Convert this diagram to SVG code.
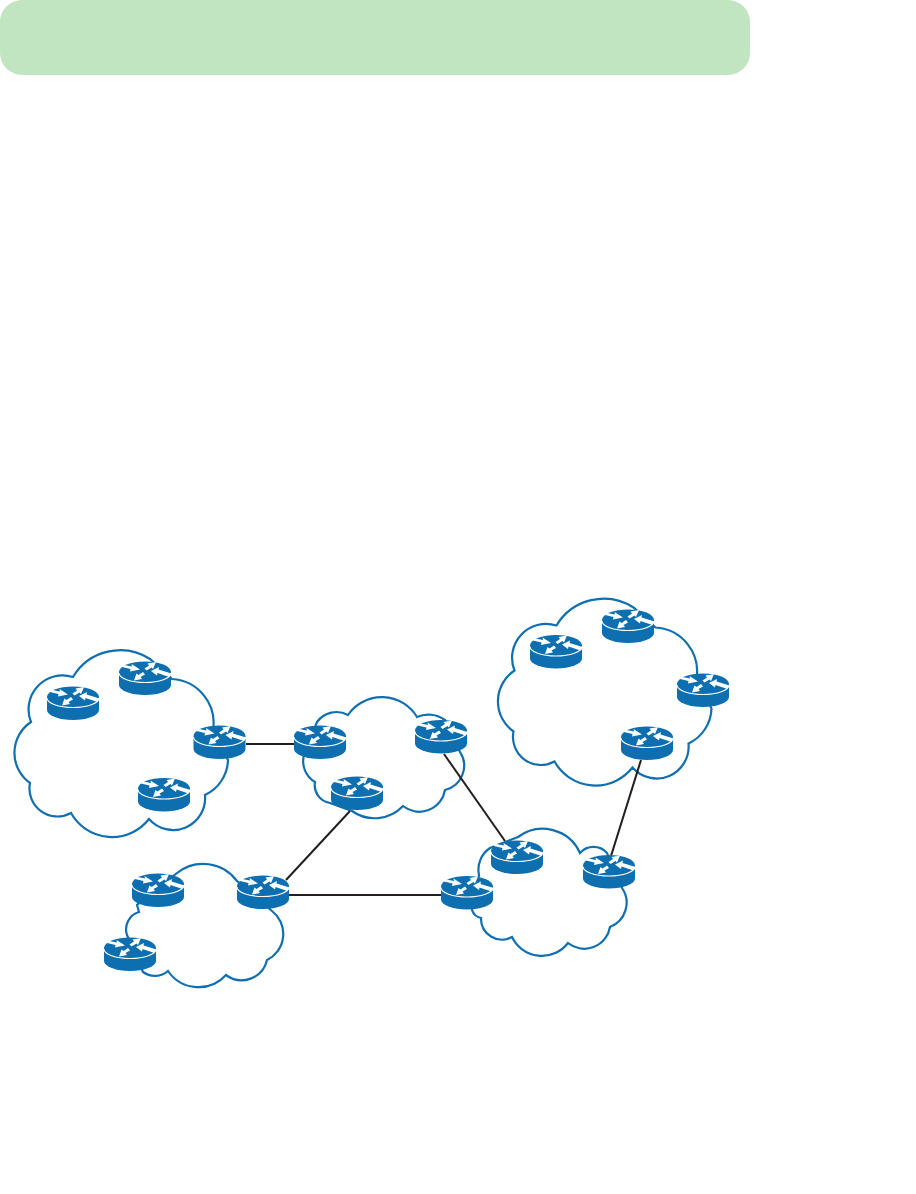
<svg xmlns="http://www.w3.org/2000/svg" xmlns:xlink="http://www.w3.org/1999/xlink" width="916" height="1194" viewBox="0 0 916 1194">
<style>
.cloud{fill:#fff;stroke:#0f6fb0;stroke-width:2.2;stroke-linejoin:miter}
.link{stroke:#231f20;stroke-width:2;fill:none}
.body{fill:#0d6fb0}
.rim{fill:none;stroke:#fff;stroke-width:1.1}
.arr{fill:#fff}
</style>
<defs>
<path id="bigcloud" class="cloud" d="M73,677 A55,55 0 0 1 150,659 L172,679 A44,44 0 0 1 213,730 L228,760 A40,40 0 0 1 205,795 A32,32 0 0 1 149,819 A47,47 0 0 1 71,813 A28,28 0 0 1 30,783 A37,37 0 0 1 31,722 A34,34 0 0 1 73,677 Z"/>
<g id="router">
<path class="body" d="M-26,-6 A26,10.500 0 0 1 26,-6 V7 A26,10 0 0 1 -26,7 Z"/>
<path class="rim" d="M-26,-5 A26,9.500 0 0 0 26,-5"/>
<polygon class="arr" points="-23,-13.500 -13,-11.500 -13.500,-14 -5,-8.500 -15,-6.500 -14.500,-9 -23,-11"/>
<polygon class="arr" points="-0.500,-9.500 4,-12.500 2.500,-14.500 11,-16 8,-9 6.500,-10.500 1.500,-7.500"/>
<polygon class="arr" points="6,-7 14,-11 13.500,-8.500 26.500,-4.500 24.500,-1 12.500,-5 12,-2.500"/>
<polygon class="arr" points="-11,2.500 -8.500,-4.500 -6.500,-3 -2,-6 0,-3.500 -4.500,-1 -3,1"/>
</g>
</defs>
<rect id="banner" x="0" y="0" width="750" height="75" rx="22" ry="22" fill="#c1e4c1"/>
<g id="clouds">
<use id="cloud-a" xlink:href="#bigcloud" href="#bigcloud"/>
<use id="cloud-b" xlink:href="#bigcloud" href="#bigcloud" x="483.500" y="-51.500"/>
<path id="cloud-c" class="cloud" d="M348,715 A41,41 0 0 1 417,717 A28,28 0 0 1 445,720 L460,752 A25,25 0 0 1 445,790 A26,26 0 0 1 403,806 A39,39 0 0 1 352,811 L330,803 A18,18 0 0 1 315,782 A24,24 0 0 1 304,755 L317,722 A24,24 0 0 1 348,715 Z"/>
<path id="cloud-d" class="cloud" d="M177,873 A42,42 0 0 1 237,881 L272,911 A29,29 0 0 1 267,960 A26,26 0 0 1 226,975 A37,37 0 0 1 168,971 A20,20 0 0 1 143,972 L127,935 A18,18 0 0 1 139,912 L137,905 Z"/>
<path id="cloud-e" class="cloud" d="M518,837 A41,41 0 0 1 580,853 A18,18 0 0 1 607,853 L622,888 A26,26 0 0 1 610,927 A26,26 0 0 1 568,943 A33,33 0 0 1 512,937 A21,21 0 0 1 481,918 A12,12 0 0 1 472,910 L479,875 A26,26 0 0 1 490,848 Z"/>
</g>
<g id="connectors">
<path class="link" d="M246,744 H294"/>
<path class="link" d="M444,754 L505,841"/>
<path class="link" d="M350,811 L286,880"/>
<path class="link" d="M289,895 H441"/>
<path class="link" d="M641,760 L611,856"/>
</g>
<g id="r1"><use xlink:href="#router" href="#router" x="145" y="678"/></g>
<g id="r2"><use xlink:href="#router" href="#router" x="73" y="703"/></g>
<g id="r3"><use xlink:href="#router" href="#router" x="219.500" y="742"/></g>
<g id="r4"><use xlink:href="#router" href="#router" x="164" y="794.500"/></g>
<g id="r5"><use xlink:href="#router" href="#router" x="628" y="626"/></g>
<g id="r6"><use xlink:href="#router" href="#router" x="556" y="651.500"/></g>
<g id="r7"><use xlink:href="#router" href="#router" x="703" y="690"/></g>
<g id="r8"><use xlink:href="#router" href="#router" x="647" y="743"/></g>
<g id="r9"><use xlink:href="#router" href="#router" x="320" y="742"/></g>
<g id="r10"><use xlink:href="#router" href="#router" x="441" y="736.500"/></g>
<g id="r11"><use xlink:href="#router" href="#router" x="357" y="793"/></g>
<g id="r12"><use xlink:href="#router" href="#router" x="158" y="890"/></g>
<g id="r13"><use xlink:href="#router" href="#router" x="263" y="892"/></g>
<g id="r14"><use xlink:href="#router" href="#router" x="130" y="954"/></g>
<g id="r15"><use xlink:href="#router" href="#router" x="517" y="857"/></g>
<g id="r16"><use xlink:href="#router" href="#router" x="609" y="871.500"/></g>
<g id="r17"><use xlink:href="#router" href="#router" x="467" y="892.500"/></g>
</svg>
